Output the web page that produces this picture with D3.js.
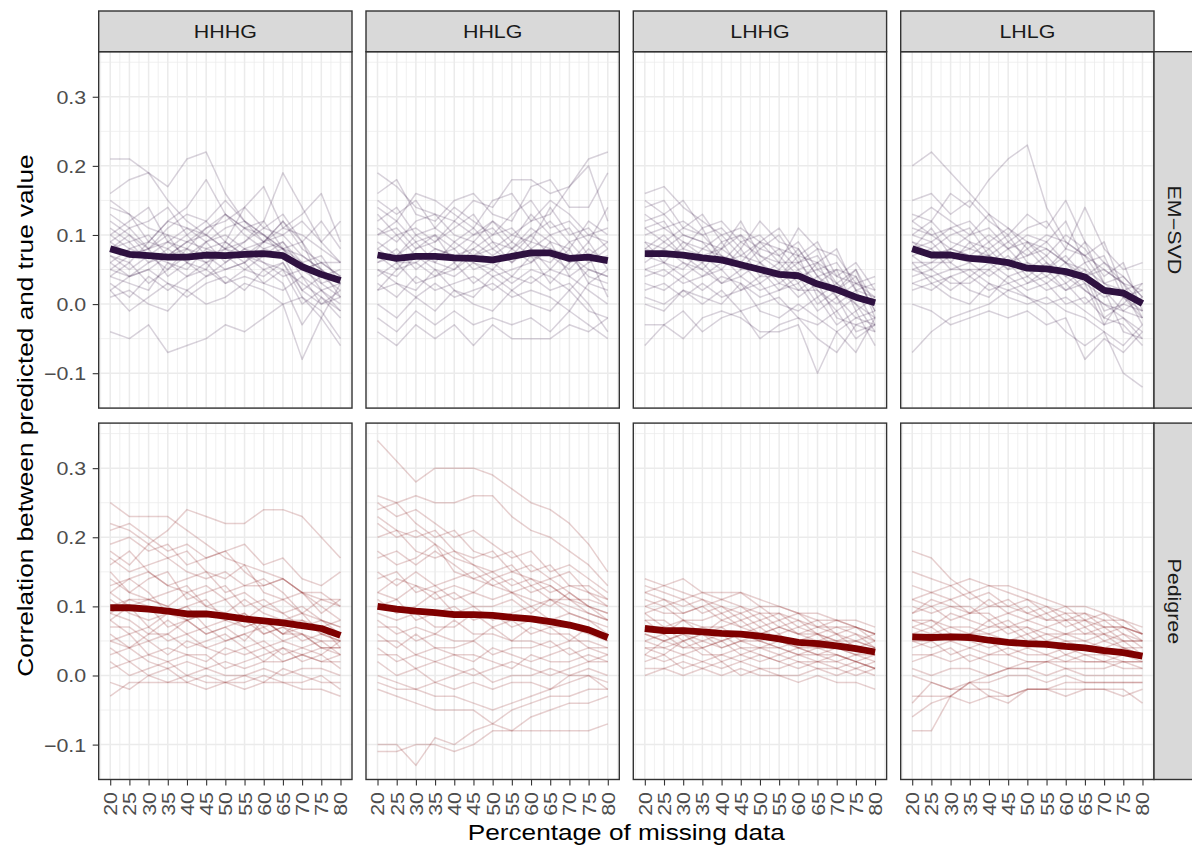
<!DOCTYPE html>
<html>
<head>
<meta charset="utf-8">
<script src="https://cdn.jsdelivr.net/npm/d3@7"></script>
<style>
  body { margin: 0; background: #fff; }
  text { font-family: "Liberation Sans", Arial, sans-serif; }
</style>
</head>
<body>
<div id="chart"></div>
<script>
// x values (percentage of missing data)
var percentMissing = [20, 25, 30, 35, 40, 45, 50, 55, 60, 65, 70, 75, 80];
var groups = ["HHHG", "HHLG", "LHHG", "LHLG"];
var methods = ["EM\u2212SVD", "Pedigree"];
var yTicks = [-0.1, 0, 0.1, 0.2, 0.3];

// mean correlation (thick line), one per panel
var meanEM_HHHG = [0.080, 0.072, 0.070, 0.068, 0.068, 0.071, 0.070, 0.072, 0.073, 0.070, 0.054, 0.043, 0.034];
var meanEM_HHLG = [0.071, 0.066, 0.069, 0.069, 0.067, 0.066, 0.064, 0.069, 0.074, 0.074, 0.066, 0.068, 0.063];
var meanEM_LHHG = [0.073, 0.073, 0.071, 0.067, 0.064, 0.057, 0.050, 0.043, 0.041, 0.029, 0.021, 0.010, 0.002];
var meanEM_LHLG = [0.080, 0.071, 0.071, 0.066, 0.064, 0.060, 0.052, 0.051, 0.047, 0.039, 0.020, 0.016, 0.001];
var meanPed_HHHG = [0.098, 0.098, 0.096, 0.093, 0.089, 0.089, 0.086, 0.082, 0.079, 0.076, 0.072, 0.068, 0.058];
var meanPed_HHLG = [0.100, 0.096, 0.093, 0.091, 0.088, 0.088, 0.087, 0.084, 0.082, 0.078, 0.073, 0.066, 0.055];
var meanPed_LHHG = [0.068, 0.065, 0.065, 0.063, 0.061, 0.060, 0.057, 0.053, 0.048, 0.046, 0.043, 0.039, 0.034];
var meanPed_LHLG = [0.056, 0.055, 0.056, 0.055, 0.051, 0.048, 0.046, 0.045, 0.042, 0.040, 0.036, 0.033, 0.028];

// individual replicates (thin lines), correlation x 100
var repsEM_HHHG = [
  [21,21,19,15,12,10,13,11,9,12,8,6,4],
  [16,18,19,17,21,22,16,12,10,8,7,5,3],
  [14,13,9,12,14,18,13,11,12,19,14,9,6],
  [12,10,8,11,13,12,9,14,17,11,13,16,9],
  [10,12,14,9,8,11,13,10,8,9,6,4,2],
  [9,7,8,10,6,9,11,12,10,8,4,2,0],
  [8,9,6,7,9,8,7,9,11,10,7,5,3],
  [7,6,9,8,10,7,8,6,9,12,9,3,1],
  [6,8,7,5,7,9,6,8,7,9,5,6,4],
  [5,4,6,8,6,5,9,7,6,5,3,1,-1],
  [4,6,3,5,8,7,5,6,8,7,2,0,2],
  [3,1,4,2,4,6,3,5,4,6,1,-2,3],
  [2,-1,1,3,1,3,4,2,5,3,-3,1,-2],
  [1,2,0,-1,2,0,1,3,2,0,-8,-2,-6],
  [-4,-5,-3,-7,-6,-5,-3,-4,-2,0,1,-1,-5],
  [13,11,12,14,10,12,15,12,9,11,10,8,6],
  [11,9,10,7,9,10,8,11,10,7,6,2,3],
  [9,11,8,9,7,6,8,9,12,8,9,5,1],
  [7,5,7,6,5,8,9,7,5,6,2,4,5],
  [6,4,5,7,8,6,7,5,7,8,6,7,3],
  [5,7,8,4,6,4,6,8,6,4,5,3,4],
  [4,3,2,6,4,5,3,4,3,5,0,2,-1],
  [8,10,7,9,11,9,10,8,9,10,12,9,12],
  [15,13,11,10,9,11,12,14,11,13,9,12,8],
  [2,4,5,3,2,4,5,6,3,2,4,0,1],
  [10,8,9,12,11,10,8,7,9,8,5,6,6]
];
var repsEM_HHLG = [
  [19,17,14,13,12,15,14,18,18,16,17,21,22],
  [16,18,13,12,15,16,13,12,17,18,14,14,19],
  [14,12,16,15,13,11,15,16,12,13,17,20,12],
  [12,14,10,11,14,12,10,13,15,11,12,9,14],
  [11,9,12,13,10,9,12,10,9,14,10,11,8],
  [10,11,8,9,11,13,9,8,11,9,8,12,10],
  [9,7,10,8,7,8,10,11,8,10,11,7,9],
  [8,10,7,6,9,7,8,6,9,8,6,9,5],
  [7,5,8,10,6,9,7,9,7,6,9,6,7],
  [6,8,5,7,8,5,6,7,10,7,5,8,6],
  [5,4,7,5,4,6,4,5,6,8,7,4,3],
  [4,6,3,4,6,3,5,3,5,4,2,5,4],
  [3,1,4,2,3,4,2,4,3,5,4,2,0],
  [2,3,1,3,1,2,3,1,2,1,-1,3,2],
  [0,-2,1,-1,2,0,-1,2,0,-1,2,-1,-2],
  [-2,-4,-1,-3,-1,-3,-2,-3,-2,-4,-1,-3,-5],
  [-4,-6,-3,-5,-3,-6,-3,-5,-5,-5,-3,-4,-2],
  [13,10,11,9,12,10,11,8,10,12,9,10,11],
  [6,7,9,6,5,7,9,6,8,5,8,3,5],
  [8,6,6,8,7,6,5,8,6,9,4,6,8],
  [2,5,6,4,5,8,6,4,7,3,6,7,1],
  [10,12,9,10,8,10,12,9,13,10,7,5,4],
  [5,3,2,5,2,1,4,2,4,2,3,0,-4],
  [15,13,15,11,9,11,8,10,12,15,13,10,9]
];
var repsEM_LHHG = [
  [16,17,14,12,10,11,9,8,7,6,4,3,2],
  [15,13,15,11,12,9,10,7,9,5,6,2,1],
  [14,15,11,13,9,10,8,10,6,7,3,5,0],
  [13,11,12,10,11,8,12,9,8,4,5,4,-1],
  [12,13,10,9,8,12,7,6,11,8,7,3,4],
  [11,9,11,10,7,6,9,11,7,9,4,6,2],
  [10,11,9,8,10,7,6,8,5,6,8,2,3],
  [9,8,10,9,6,9,7,5,8,4,2,5,-2],
  [8,10,7,6,9,5,8,7,4,5,3,1,0],
  [8,7,8,7,5,8,4,6,6,3,5,-1,1],
  [7,6,5,8,7,4,6,3,5,2,0,2,-3],
  [6,8,6,4,6,6,3,5,2,4,1,-2,-1],
  [5,4,6,5,3,5,5,2,4,0,2,0,-4],
  [4,5,3,4,5,2,4,4,1,3,-2,-3,-2],
  [3,2,4,2,4,3,1,2,3,-1,1,-4,-3],
  [2,3,1,3,1,2,3,0,-1,1,-3,-1,-6],
  [0,-1,2,0,2,-1,0,1,-2,-3,-1,-5,-3],
  [-3,-3,-5,-2,-1,-2,-4,-4,-3,-10,-4,-7,-2],
  [-6,-3,-1,-4,-2,-1,-5,-3,-2,-5,-7,-3,-4],
  [9,6,9,7,8,10,6,4,6,8,2,4,-1],
  [11,12,8,11,6,7,9,6,3,6,1,3,1],
  [7,9,7,5,8,6,5,4,7,1,3,0,-2],
  [5,6,4,6,3,4,2,3,2,2,-1,1,0],
  [1,0,2,1,0,3,-1,-2,0,-2,-4,-2,-3]
];
var repsEM_LHLG = [
  [20,22,19,16,13,11,9,8,6,5,3,2,0],
  [13,12,16,14,18,21,23,14,9,7,5,3,2],
  [15,16,13,15,12,10,13,11,15,9,6,4,1],
  [12,14,12,10,13,9,11,12,8,14,8,5,6],
  [11,10,11,12,9,11,8,10,9,7,9,2,3],
  [10,12,9,8,10,8,9,7,10,8,4,6,-1],
  [9,8,10,11,7,9,7,8,6,9,3,1,2],
  [9,7,8,7,9,6,8,5,7,4,5,3,-2],
  [8,9,6,9,6,8,5,7,4,6,2,-1,1],
  [7,5,7,6,8,5,6,4,6,3,1,2,-3],
  [7,8,5,5,5,7,4,6,3,5,-1,0,-1],
  [6,6,6,4,6,4,5,3,5,2,0,-2,-4],
  [5,4,5,6,4,6,3,4,2,3,-3,1,-2],
  [4,5,3,3,5,3,4,2,3,0,2,-4,-5],
  [3,2,4,2,1,4,2,3,0,1,-2,-3,-6],
  [2,3,1,0,3,1,0,1,-1,-2,-4,-6,-3],
  [-7,-4,-2,-1,0,2,1,-1,-4,-6,-4,-10,-12],
  [0,-1,-3,-2,-1,-2,-1,-3,-2,-8,-5,-7,-4],
  [8,11,7,8,7,6,7,9,6,4,6,3,0],
  [10,9,11,9,8,10,6,5,8,7,3,4,1],
  [5,6,8,7,7,5,9,6,4,2,0,-1,-2],
  [6,3,4,5,3,2,3,5,2,4,-2,0,3],
  [12,10,8,10,11,8,10,9,12,6,7,1,-1],
  [3,4,2,4,2,3,1,0,1,-1,-3,-2,-5]
];
var repsPed_HHHG = [
  [25,23,23,23,21,19,17,16,15,14,12,10,8],
  [22,21,19,21,24,23,22,22,24,24,23,20,17],
  [21,22,20,18,19,17,18,19,16,17,14,13,15],
  [19,20,18,19,16,17,18,15,13,14,12,12,10],
  [18,16,19,17,18,15,14,16,12,11,12,9,11],
  [16,18,15,13,14,15,12,13,14,12,9,11,11],
  [15,12,14,15,11,12,13,10,11,9,10,8,6],
  [14,12,11,12,13,10,11,8,10,9,7,8,7],
  [13,14,12,9,10,11,8,9,7,8,9,6,5],
  [12,10,11,10,8,9,9,7,8,6,7,7,4],
  [11,9,8,9,10,7,8,9,6,7,5,6,6],
  [10,11,10,7,8,6,7,5,8,6,6,4,4],
  [9,8,6,8,6,7,5,6,7,5,4,5,3],
  [8,6,7,5,6,4,5,6,4,5,6,4,4],
  [7,7,5,6,4,5,6,4,5,3,4,3,5],
  [6,4,5,3,5,4,3,4,2,4,3,4,3],
  [5,6,3,4,3,2,4,3,4,2,3,2,2],
  [4,2,3,2,3,3,1,2,3,4,2,3,1],
  [3,4,2,1,2,1,2,1,2,2,3,2,3],
  [2,0,1,2,0,1,0,0,1,0,1,1,0],
  [1,2,0,-1,0,-1,-1,0,-1,1,0,-1,-1],
  [-1,-2,0,1,-1,0,-1,-1,0,-1,-1,0,-2],
  [-3,-1,-1,-1,-1,-2,-1,-2,-1,-1,-2,-2,-3],
  [12,14,15,13,12,13,11,12,10,11,9,8,7],
  [9,11,11,10,12,10,9,11,9,8,8,7,8],
  [5,4,6,6,8,6,7,8,6,7,6,5,5],
  [8,10,7,9,8,9,8,7,8,6,8,6,5],
  [17,15,16,17,15,14,15,13,13,14,12,11,10]
];
var repsPed_HHLG = [
  [34,31,28,30,30,30,29,27,25,24,22,19,15],
  [26,25,26,25,25,26,26,23,21,20,18,16,13],
  [25,23,24,22,20,21,19,17,18,15,16,14,12],
  [24,25,22,20,21,18,17,18,15,16,13,13,11],
  [23,21,20,21,18,17,18,15,16,14,15,12,10],
  [22,20,21,19,17,16,15,16,13,14,12,10,9],
  [20,21,18,17,18,16,14,15,14,12,13,12,11],
  [17,18,16,18,16,14,15,13,14,13,11,10,9],
  [15,13,15,13,14,15,13,14,12,13,11,9,8],
  [14,15,12,13,11,12,14,12,11,10,12,10,8],
  [12,11,13,11,12,10,10,11,9,11,9,8,7],
  [11,9,10,12,9,10,8,9,10,8,9,8,6],
  [10,11,8,9,10,8,9,7,8,7,7,6,5],
  [9,8,9,7,7,9,7,8,6,7,5,7,5],
  [8,6,7,6,8,6,6,5,7,6,6,4,4],
  [7,7,5,6,5,5,7,5,5,4,5,5,4],
  [6,4,6,4,4,5,3,4,4,5,3,4,3],
  [5,5,3,4,3,2,4,3,2,3,4,2,3],
  [4,2,3,2,3,3,2,1,3,2,2,3,2],
  [3,3,1,2,1,0,1,2,1,0,1,2,2],
  [2,0,1,-1,0,1,-1,0,0,1,0,1,0],
  [0,-1,-2,-1,-2,-1,-2,-1,-1,-2,0,0,-2],
  [-2,-3,-4,-5,-5,-5,-7,-8,-6,-5,-4,-4,-3],
  [-1,-2,-2,-3,-3,-4,-5,-4,-3,-2,-1,0,-1],
  [-10,-10,-13,-9,-10,-8,-7,-5,-4,-3,-3,-2,-2],
  [-11,-11,-10,-10,-11,-10,-8,-8,-8,-8,-8,-8,-7],
  [18,16,17,19,15,14,13,12,13,11,11,11,10],
  [12,14,13,12,13,12,11,12,10,11,10,9,8]
];
var repsPed_LHHG = [
  [14,13,14,12,12,12,11,10,9,8,8,7,6],
  [13,12,11,12,11,12,10,10,9,9,8,8,7],
  [12,13,12,11,10,9,10,8,9,7,8,7,6],
  [12,11,10,11,9,10,8,9,7,8,6,7,5],
  [11,10,11,9,10,8,9,7,8,6,7,6,5],
  [10,9,9,10,8,9,7,8,6,7,6,5,6],
  [9,10,8,8,9,7,8,6,7,6,5,6,4],
  [9,7,8,7,7,8,6,7,6,5,6,4,5],
  [8,8,6,7,6,6,7,5,5,6,4,5,4],
  [7,6,7,6,7,5,5,6,4,5,5,4,3],
  [7,7,5,6,5,6,5,4,5,4,4,3,4],
  [6,5,6,5,6,4,4,5,4,3,4,4,3],
  [6,5,4,5,4,5,4,3,4,3,3,2,3],
  [5,6,4,4,5,3,4,4,3,3,2,3,2],
  [4,3,5,3,3,4,3,2,3,2,3,2,1],
  [4,4,3,4,2,3,2,3,2,2,2,1,2],
  [3,2,3,2,3,2,3,2,1,2,1,2,1],
  [2,3,1,2,1,2,1,1,2,1,1,0,1],
  [1,1,2,1,2,0,1,0,0,1,0,1,0],
  [0,1,0,1,0,1,0,0,-1,0,-1,-1,-2],
  [10,11,9,10,11,10,9,9,8,7,7,7,6],
  [3,5,6,4,5,6,5,4,3,4,3,2,1],
  [8,6,8,6,8,7,6,7,6,6,5,5,4],
  [5,4,5,6,4,5,6,5,4,4,4,3,3]
];
var repsPed_LHLG = [
  [18,17,14,12,13,12,11,10,9,9,8,8,6],
  [15,14,13,14,13,13,12,11,10,10,9,8,7],
  [13,12,13,11,12,10,11,9,10,8,9,7,6],
  [11,12,11,12,10,11,9,10,8,9,7,7,6],
  [11,10,11,9,11,9,10,8,9,7,8,6,5],
  [10,9,10,10,8,9,8,9,7,8,6,7,5],
  [9,10,8,9,9,7,8,7,8,6,7,5,5],
  [8,7,9,8,7,8,6,7,6,7,5,6,4],
  [8,8,7,6,8,6,7,5,6,5,6,4,4],
  [7,6,7,7,6,7,5,6,5,5,4,5,3],
  [6,7,5,6,6,5,6,4,5,4,5,4,3],
  [5,5,6,5,4,5,4,5,3,4,3,4,3],
  [5,4,5,4,5,3,4,3,4,3,3,2,2],
  [4,5,3,4,3,4,3,3,2,3,2,3,2],
  [3,3,4,2,3,3,2,2,3,2,2,1,1],
  [2,3,2,3,2,1,2,2,1,1,1,2,1],
  [1,0,1,1,0,1,1,0,1,0,0,0,0],
  [0,-1,-2,-1,-1,0,0,-1,0,-1,-1,-1,-1],
  [-3,-3,-3,-1,-3,-4,-2,-2,-3,-2,-2,-3,-2],
  [-6,-4,-3,-4,-3,-3,-2,-2,-1,-1,-1,-1,-1],
  [-8,-8,-3,-1,0,1,1,2,2,2,2,2,2],
  [-4,-1,-2,-2,-2,-3,-2,-2,-2,-2,-2,-2,-4],
  [9,11,10,9,10,10,9,8,8,8,7,7,6],
  [7,8,6,6,7,7,7,6,6,6,6,5,5]
];

var meanByPanel = [
  [meanEM_HHHG, meanEM_HHLG, meanEM_LHHG, meanEM_LHLG],
  [meanPed_HHHG, meanPed_HHLG, meanPed_LHHG, meanPed_LHLG]
];
var repsByPanel = [
  [repsEM_HHHG, repsEM_HHLG, repsEM_LHHG, repsEM_LHLG],
  [repsPed_HHHG, repsPed_HHLG, repsPed_LHHG, repsPed_LHLG]
];
var methodColor = ["#2e1140", "#7f0000"];

var svgWidth = 1192;
var svgHeight = 848;
var panelW = 253.3;
var panelH = 356.4;
var colX = [98.7, 366, 633.3, 900.7];
var rowY = [51.7, 423.1];
var stripSize = 40.7;
var textStretch = 1.19;   // the reference text is wider than Arial
var tickLen = 6;
var tickGap = 12.5;

var svg = d3.select("#chart")
    .append("svg")
    .attr("width", svgWidth)
    .attr("height", svgHeight);

svg.append("rect").attr("width", svgWidth).attr("height", svgHeight).attr("fill", "#fff");

var x = d3.scaleLinear().domain([17, 83]).range([0, panelW]);
var y = d3.scaleLinear().domain([-0.1505, 0.3652]).range([panelH, 0]);

var xMinor = d3.range(17.5, 83, 5);
var yMinor = [-0.15, -0.05, 0.05, 0.15, 0.25, 0.35];

var fmt = function(d) { return d3.format(".1f")(d).replace("-", "\u2212"); };

methods.forEach(function(m, r) {
    groups.forEach(function(gname, c) {
        var g = svg.append("g")
            .attr("transform", `translate(${colX[c]}, ${rowY[r]})`);

        // grid
        g.selectAll(".vminor").data(xMinor).enter().append("line")
            .attr("x1", d => x(d)).attr("x2", d => x(d))
            .attr("y1", 0).attr("y2", panelH)
            .attr("stroke", "#ebebeb").attr("stroke-width", 0.75);
        g.selectAll(".hminor").data(yMinor).enter().append("line")
            .attr("x1", 0).attr("x2", panelW)
            .attr("y1", d => y(d)).attr("y2", d => y(d))
            .attr("stroke", "#ebebeb").attr("stroke-width", 0.75);
        g.selectAll(".vmajor").data(percentMissing).enter().append("line")
            .attr("x1", d => x(d)).attr("x2", d => x(d))
            .attr("y1", 0).attr("y2", panelH)
            .attr("stroke", "#ebebeb").attr("stroke-width", 1.5);
        g.selectAll(".hmajor").data(yTicks).enter().append("line")
            .attr("x1", 0).attr("x2", panelW)
            .attr("y1", d => y(d)).attr("y2", d => y(d))
            .attr("stroke", "#ebebeb").attr("stroke-width", 1.5);

        // replicate lines
        var line = d3.line()
            .x((d, i) => x(percentMissing[i]))
            .y(d => y(d));

        g.selectAll(".rep").data(repsByPanel[r][c]).enter().append("path")
            .attr("d", d => line(d.map(v => v / 100)))
            .attr("fill", "none")
            .attr("stroke", methodColor[r])
            .attr("stroke-opacity", 0.19)
            .attr("stroke-width", 1.5)
            .attr("stroke-linejoin", "round");

        // mean line
        g.append("path")
            .attr("d", line(meanByPanel[r][c]))
            .attr("fill", "none")
            .attr("stroke", methodColor[r])
            .attr("stroke-width", 6.8)
            .attr("stroke-linejoin", "round");

        // border
        g.append("rect")
            .attr("width", panelW).attr("height", panelH)
            .attr("fill", "none").attr("stroke", "#333").attr("stroke-width", 1.4);

        // left axis
        if (c == 0) {
            var ax = g.append("g")
                .call(d3.axisLeft(y).tickValues(yTicks).tickSize(tickLen).tickFormat(fmt));
            ax.select(".domain").remove();
            ax.selectAll("line").attr("stroke", "#333").attr("stroke-width", 1.1);
            ax.selectAll("text")
                .attr("transform", `scale(${textStretch},1)`)
                .attr("x", -tickGap / textStretch).attr("dy", "0.36em")
                .attr("fill", "#4d4d4d").style("font-size", "18px")
                .style("font-family", "Liberation Sans, Arial, sans-serif");
        }
        // bottom axis
        if (r == 1) {
            var bx = g.append("g")
                .attr("transform", `translate(0, ${panelH})`)
                .call(d3.axisBottom(x).tickValues(percentMissing).tickSize(tickLen));
            bx.select(".domain").remove();
            bx.selectAll("line").attr("stroke", "#333").attr("stroke-width", 1.1);
            bx.selectAll("text")
                .attr("transform", `rotate(-90) scale(${textStretch},1)`)
                .attr("x", -tickGap / textStretch).attr("y", 0).attr("dy", "0.36em")
                .style("text-anchor", "end")
                .attr("fill", "#4d4d4d").style("font-size", "18px")
                .style("font-family", "Liberation Sans, Arial, sans-serif");
        }
    });
});

// top strips
groups.forEach(function(gname, c) {
    svg.append("rect")
        .attr("x", colX[c]).attr("y", 11)
        .attr("width", panelW).attr("height", stripSize)
        .attr("fill", "#d9d9d9").attr("stroke", "#333").attr("stroke-width", 1.4);
    svg.append("text")
        .attr("transform", `translate(${colX[c] + panelW / 2}, ${11 + stripSize / 2}) scale(${textStretch},1)`)
        .attr("dy", "0.36em")
        .attr("text-anchor", "middle")
        .attr("fill", "#1a1a1a").style("font-size", "18px")
        .text(gname);
});

// right strips
methods.forEach(function(m, r) {
    var sx = colX[3] + panelW;
    svg.append("rect")
        .attr("x", sx).attr("y", rowY[r])
        .attr("width", stripSize).attr("height", panelH)
        .attr("fill", "#d9d9d9").attr("stroke", "#333").attr("stroke-width", 1.4);
    svg.append("text")
        .attr("transform", `translate(${sx + stripSize / 2}, ${rowY[r] + panelH / 2}) rotate(90) scale(${textStretch},1)`)
        .attr("dy", "0.36em")
        .attr("text-anchor", "middle")
        .attr("fill", "#1a1a1a").style("font-size", "18px")
        .text(m);
});

// axis titles
svg.append("text")
    .attr("transform", `translate(${(colX[0] + colX[3] + panelW) / 2}, 840) scale(${textStretch},1)`)
    .attr("text-anchor", "middle")
    .attr("fill", "#000").style("font-size", "22px")
    .text("Percentage of missing data");

svg.append("text")
    .attr("transform", `translate(33, ${(rowY[0] + rowY[1] + panelH) / 2}) rotate(-90) scale(${textStretch},1)`)
    .attr("text-anchor", "middle")
    .attr("fill", "#000").style("font-size", "22px")
    .text("Correlation between predicted and true value");
</script>
</body>
</html>
